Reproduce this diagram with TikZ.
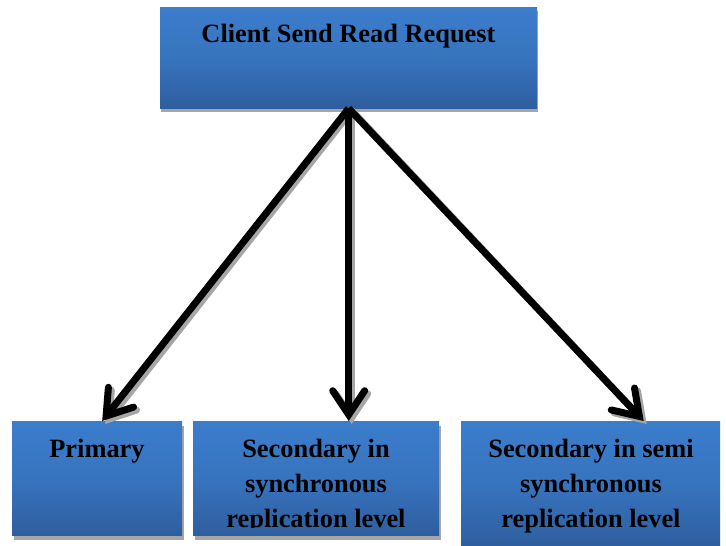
\documentclass[tikz,border=0pt]{standalone}
\usepackage{fontspec}
\setmainfont{Liberation Serif}
\usetikzlibrary{arrows.meta}
\definecolor{boxtop}{HTML}{3B7DCC}
\definecolor{boxbot}{HTML}{2F5E9F}
\definecolor{shade}{HTML}{A6A6A6}
\tikzset{
  bluebox/.style={rectangle, inner sep=0pt, top color=boxtop, bottom color=boxbot, middle color=boxtop!70!boxbot, anchor=north west},
  shadowbox/.style={rectangle, inner sep=0pt, fill=shade, anchor=north west},
  lbl/.style={font=\bfseries\fontsize{26.4}{35}\selectfont, align=center, inner sep=0pt, anchor=base},
  arr/.style={line width=7pt, -{Straight Barb[length=24pt,width=32pt,line width=7pt,line cap=round,line join=miter]}},
  arrshadow/.style={arr, draw=shade}
}
\begin{document}
\begin{tikzpicture}[x=1pt,y=-1pt]
\useasboundingbox (0,0) rectangle (726,546);
% shadows
\node[shadowbox, minimum width=377pt, minimum height=101pt] (topS) at (161,11) {};
\node[shadowbox, minimum width=170pt, minimum height=114pt] (leftS) at (14,426) {};
\node[shadowbox, minimum width=246pt, minimum height=114pt] (midS) at (195,426) {};
% boxes
\node[bluebox, minimum width=377pt, minimum height=101pt] (top) at (160,7) {};
\node[bluebox, minimum width=170pt, minimum height=114pt] (left) at (12,421) {};
\node[bluebox, minimum width=246pt, minimum height=114pt] (mid) at (193,421) {};
\node[bluebox, minimum width=259pt, minimum height=125pt] (right) at (461,421) {};
% labels
\node[lbl] (ttop) at (348.5,42) {Client Send Read Request};
\node[lbl] (tleft) at (97,457) {Primary};
\begin{scope}
\clip (193,421) rectangle (439,527.5);
\node[lbl] (tmid) at (316,527) {Secondary in\\synchronous\\replication level};
\end{scope}
\node[lbl] (tright) at (591,527) {Secondary in semi\\synchronous\\replication level};
% arrow shadows
\draw[arrshadow] ([xshift=3pt,yshift=-2pt]top.south) -- ([xshift=8pt,yshift=-3pt]left.north);
\draw[arrshadow] ([xshift=3pt,yshift=-2pt]top.south) -- ([xshift=3pt,yshift=-3pt]top.south |- mid.north);
\draw[arrshadow] ([xshift=3pt,yshift=-2pt]top.south) -- ([xshift=56pt,yshift=-3pt]right.north);
% arrows
\draw[arr] (top.south) -- ([xshift=5pt]left.north);
\draw[arr] (top.south) -- (top.south |- mid.north);
\draw[arr] (top.south) -- ([xshift=53pt]right.north);
\end{tikzpicture}
\end{document}
